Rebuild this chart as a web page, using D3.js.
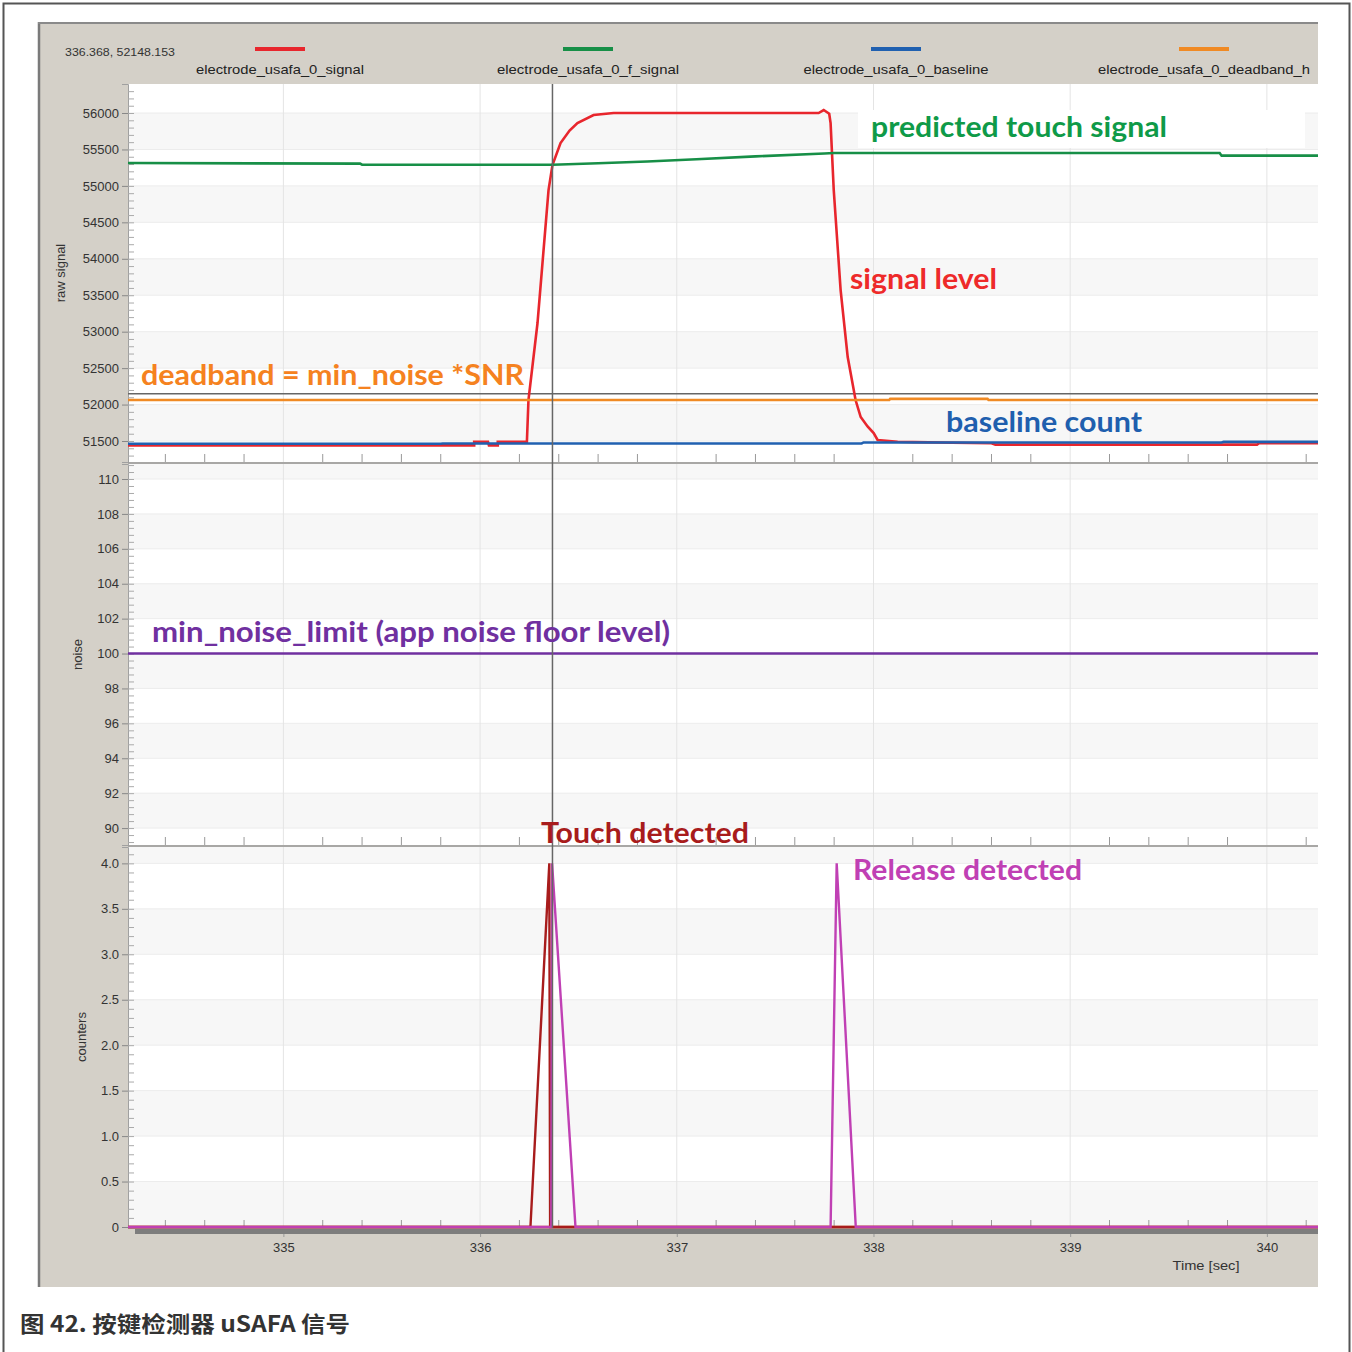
<!DOCTYPE html>
<html>
<head>
<meta charset="utf-8">
<script src="https://cdn.jsdelivr.net/npm/d3@7"></script>
<style>
  body { margin: 0; background: #fff; }
  svg { display: block; }
  .tick text { font-family: "Liberation Sans", Arial, sans-serif; fill: #333; }
</style>
</head>
<body>
<svg id="chart"></svg>
<script>
// ---- data ----
const timeTicks = [335, 336, 337, 338, 339, 340]
const rawTicks = [51500, 52000, 52500, 53000, 53500, 54000, 54500, 55000, 55500, 56000]
const noiseTicks = [90, 92, 94, 96, 98, 100, 102, 104, 106, 108, 110]
const counterTicks = [0, 0.5, 1.0, 1.5, 2.0, 2.5, 3.0, 3.5, 4.0]

// [time, value]
const rawSignal = [
  [334.21, 51440], [335.97, 51440], [335.97, 51490], [336.04, 51490], [336.045, 51440],
  [336.09, 51440], [336.09, 51490], [336.238, 51490], [336.246, 52062], [336.292, 53119],
  [336.348, 54943], [336.368, 55286], [336.409, 55588], [336.455, 55760], [336.495, 55862],
  [336.577, 55972], [336.679, 56000], [337.721, 56000], [337.747, 56041], [337.775, 55990],
  [337.782, 55862], [337.798, 54943], [337.833, 53571], [337.869, 52652], [337.909, 52062],
  [337.935, 51829], [337.97, 51700], [338.001, 51610], [338.021, 51514], [338.123, 51490],
  [338.2, 51485], [338.6, 51470], [338.62, 51450], [339.95, 51450], [339.96, 51470], [340.26, 51470]
]
const filteredSignal = [
  [334.21, 55314], [335.39, 55305], [335.4, 55290], [336.37, 55290], [336.6, 55310],
  [336.85, 55335], [337.1, 55365], [337.4, 55405], [337.75, 55445], [337.8, 55452],
  [339.76, 55452], [339.77, 55415], [340.26, 55415]
]
const baseline = [
  [334.21, 51462], [335.8, 51462], [335.81, 51466], [337.94, 51466], [337.95, 51480],
  [339.77, 51480], [339.78, 51488], [340.26, 51488]
]
const deadbandH = [
  [334.21, 52062], [338.08, 52062], [338.085, 52078], [338.58, 52078], [338.585, 52062], [340.26, 52062]
]
const cursor = [336.368, 52148.153]
const minNoiseLimit = [[334.21, 100], [340.26, 100]]
const touchCounter = [
  [334.21, 0], [336.256, 0], [336.352, 4], [336.356, 0], [340.26, 0]
]
const releaseCounter = [
  [334.21, 0], [336.362, 0], [336.366, 4], [336.485, 0], [337.782, 0], [337.813, 4], [337.91, 0], [340.26, 0]
]
const stateCounter = [[334.21, 0], [340.26, 0]]

const legendNames = ['electrode_usafa_0_signal', 'electrode_usafa_0_f_signal',
  'electrode_usafa_0_baseline', 'electrode_usafa_0_deadband_h']
const legendColors = ['#e8262d', '#178f47', '#2060b0', '#f08a24']

// ---- layout ----
const W = 1352, H = 1352
const left = 128, right = 1318
const svg = d3.select('#chart').attr('width', W).attr('height', H)

// outer frame + grey panel
svg.append('rect').attr('x', 3.5).attr('y', 3.5).attr('width', 1346).attr('height', 1400)
  .attr('fill', 'none').attr('stroke', '#555').attr('stroke-width', 2)
svg.append('rect').attr('x', 38).attr('y', 22).attr('width', right - 38).attr('height', 1265)
  .attr('fill', '#d4d0c8')
svg.append('line').attr('x1', 39).attr('x2', 39).attr('y1', 22).attr('y2', 1287)
  .attr('stroke', '#7a7a7a').attr('stroke-width', 2.5)
svg.append('line').attr('x1', 38).attr('x2', right).attr('y1', 23).attr('y2', 23)
  .attr('stroke', '#8a8a8a').attr('stroke-width', 2)

const x = d3.scaleLinear().domain([334.21, 340.26]).range([left, right])

const panels = [
  { y: d3.scaleLinear().domain([51212, 56398]).range([462, 84]), ticks: rawTicks, step: 500, minor: 100,
    fmt: d3.format('d'), title: 'raw signal', tx: 65 },
  { y: d3.scaleLinear().domain([89.03, 110.86]).range([845, 464]), ticks: noiseTicks, step: 2, minor: 0.4,
    fmt: d3.format('d'), title: 'noise', tx: 82 },
  { y: d3.scaleLinear().domain([0, 4.18]).range([1227, 847]), ticks: counterTicks, step: 0.5, minor: 0.1,
    fmt: d => d === 0 ? '0' : d3.format('.1f')(d), title: 'counters', tx: 86 }
]

panels.forEach((p, i) => {
  const [y0, y1] = p.y.range()
  const g = svg.append('g')
  g.append('rect').attr('x', left).attr('y', y1).attr('width', right - left).attr('height', y0 - y1)
    .attr('fill', '#fff')
  // alternating bands
  const bandTicks = p.ticks.slice()
  bandTicks.forEach((t, k) => {
    if (k % 2 === 0) {
      const top = Math.max(p.y(t + p.step), y1)
      g.append('rect').attr('x', left).attr('width', right - left)
        .attr('y', top).attr('height', p.y(t) - top).attr('fill', '#f7f7f7')
    }
  })
  // grid
  g.selectAll('.hg').data(p.ticks).join('line')
    .attr('x1', left).attr('x2', right).attr('y1', d => p.y(d)).attr('y2', d => p.y(d))
    .attr('stroke', '#ececec')
  g.selectAll('.vg').data(timeTicks).join('line')
    .attr('x1', d => x(d)).attr('x2', d => x(d)).attr('y1', y1).attr('y2', y0)
    .attr('stroke', '#e4e4e4')
  // minor x ticks along the bottom of each panel
  const minorX = d3.range(334.4, 340.25, 0.2).filter(t => Math.abs(t - Math.round(t)) > 0.01)
  g.selectAll('.mx').data(minorX).join('line')
    .attr('x1', d => x(d)).attr('x2', d => x(d)).attr('y1', y0 - (i === 2 ? 7 : 8)).attr('y2', y0)
    .attr('stroke', '#999')
  // y axis
  const ax = d3.axisLeft(p.y).tickValues(p.ticks).tickFormat(p.fmt).tickSize(6).tickPadding(3)
  const ag = svg.append('g').attr('transform', `translate(${left},0)`).call(ax)
  ag.select('.domain').attr('stroke', '#a0a0a0')
  ag.selectAll('.tick line').attr('stroke', '#888')
  ag.selectAll('.tick text').attr('font-size', 13).attr('fill', '#3a3a3a')
  const minors = d3.range(Math.ceil(p.y.domain()[0] / p.minor) * p.minor, p.y.domain()[1], p.minor)
  const mg = d3.axisRight(p.y).tickValues(minors).tickSize(6).tickFormat('')
  const mgg = svg.append('g').attr('transform', `translate(${left},0)`).call(mg)
  mgg.select('.domain').remove()
  mgg.selectAll('.tick line').attr('stroke', '#aaa')
  // axis title
  svg.append('text').attr('transform', `translate(${p.tx},${(y0 + y1) / 2}) rotate(-90)`)
    .attr('text-anchor', 'middle').attr('font-family', 'Liberation Sans, Arial, sans-serif')
    .attr('font-size', 13).attr('fill', '#333').text(p.title)
  // separator
  svg.append('line').attr('x1', left).attr('x2', right).attr('y1', y0 + 1).attr('y2', y0 + 1)
    .attr('stroke', '#9a9a9a').attr('stroke-width', 1.5)
})

const [pr, pn, pc] = panels
const line = y => d3.line().x(d => x(d[0])).y(d => y(d[1]))

// top panel series
svg.append('line').attr('x1', left).attr('x2', right)
  .attr('y1', pr.y(cursor[1])).attr('y2', pr.y(cursor[1])).attr('stroke', '#666').attr('stroke-width', 1.5)
svg.append('path').datum(rawSignal).attr('d', line(pr.y)).attr('fill', 'none')
  .attr('stroke', '#e8262d').attr('stroke-width', 2.6)
svg.append('path').datum(filteredSignal).attr('d', line(pr.y)).attr('fill', 'none')
  .attr('stroke', '#178f47').attr('stroke-width', 2.6)
svg.append('path').datum(baseline).attr('d', line(pr.y)).attr('fill', 'none')
  .attr('stroke', '#2060b0').attr('stroke-width', 2.6)
svg.append('path').datum(deadbandH).attr('d', line(pr.y)).attr('fill', 'none')
  .attr('stroke', '#f08a24').attr('stroke-width', 2.6)

// middle panel
svg.append('path').datum(minNoiseLimit).attr('d', line(pn.y)).attr('fill', 'none')
  .attr('stroke', '#7030a0').attr('stroke-width', 2.6)

// bottom panel
svg.append('path').datum(stateCounter).attr('d', line(pc.y)).attr('fill', 'none')
  .attr('stroke', '#d86a30').attr('stroke-width', 2.4)
svg.append('path').datum(touchCounter).attr('d', line(pc.y)).attr('fill', 'none')
  .attr('stroke', '#a81c1c').attr('stroke-width', 2.4)
svg.append('path').datum(releaseCounter).attr('d', line(pc.y)).attr('fill', 'none')
  .attr('stroke', '#c040b4').attr('stroke-width', 2.4)

// vertical cursor
svg.append('line').attr('x1', x(cursor[0])).attr('x2', x(cursor[0])).attr('y1', 84).attr('y2', 1228)
  .attr('stroke', '#666').attr('stroke-width', 1.5)

// x axis
svg.append('rect').attr('x', 135).attr('y', 1229).attr('width', right - 135).attr('height', 5).attr('fill', '#7d7d7d')
const xa = svg.append('g').attr('transform', 'translate(0,1234)')
  .call(d3.axisBottom(x).tickValues(timeTicks).tickFormat(d3.format('d')).tickSize(3).tickPadding(6))
xa.select('.domain').remove()
xa.selectAll('.tick line').attr('stroke', '#999')
xa.selectAll('.tick text').attr('font-size', 13).attr('fill', '#3a3a3a')
svg.append('text').attr('x', 1206).attr('y', 1270).attr('text-anchor', 'middle')
  .attr('font-family', 'Liberation Sans, Arial, sans-serif').attr('font-size', 13)
  .attr('fill', '#333').attr('textLength', 67).attr('lengthAdjust', 'spacingAndGlyphs').text('Time [sec]')

// legend
svg.append('text').attr('x', 65).attr('y', 56).attr('font-family', 'Liberation Sans, Arial, sans-serif')
  .attr('font-size', 11).attr('fill', '#333').attr('textLength', 110).attr('lengthAdjust', 'spacingAndGlyphs')
  .text(cursor[0].toFixed(3) + ', ' + cursor[1].toFixed(3))
const legendX = [280, 588, 896, 1204]
const legendW = [168, 182, 185, 212]
legendNames.forEach((n, i) => {
  svg.append('line').attr('x1', legendX[i] - 25).attr('x2', legendX[i] + 25).attr('y1', 49).attr('y2', 49)
    .attr('stroke', legendColors[i]).attr('stroke-width', 4)
  svg.append('text').attr('x', legendX[i]).attr('y', 74).attr('text-anchor', 'middle')
    .attr('font-family', 'Liberation Sans, Arial, sans-serif').attr('font-size', 13).attr('fill', '#222')
    .attr('textLength', legendW[i]).attr('lengthAdjust', 'spacingAndGlyphs').text(n)
})

// annotations
svg.append('rect').attr('x', 858).attr('y', 110).attr('width', 447).attr('height', 38).attr('fill', '#fff')
const notes = [
  { t: 'predicted touch signal', x: 871, y: 137, w: 296, c: '#0f9a48' },
  { t: 'signal level', x: 850, y: 289, w: 147, c: '#ee2a2a' },
  { t: 'deadband = min_noise *SNR', x: 141, y: 385, w: 383, c: '#f58220' },
  { t: 'baseline count', x: 946, y: 432, w: 196, c: '#1f5fae' },
  { t: 'min_noise_limit (app noise floor level)', x: 152, y: 642, w: 518, c: '#7030a0' },
  { t: 'Touch detected', x: 541, y: 843, w: 208, c: '#a81c1c' },
  { t: 'Release detected', x: 853, y: 880, w: 229, c: '#c040b4' }
]
notes.forEach(n => {
  svg.append('text').attr('x', n.x).attr('y', n.y).attr('font-family', 'Lato, "Open Sans", sans-serif')
    .attr('font-weight', 700).attr('font-size', 28).attr('fill', n.c)
    .attr('textLength', n.w).attr('lengthAdjust', 'spacingAndGlyphs').text(n.t)
})

// caption
svg.append('text').attr('x', 20).attr('y', 1332)
  .attr('font-family', '"Noto Sans CJK SC", "Noto Sans", sans-serif').attr('font-weight', 700)
  .attr('font-size', 22).attr('fill', '#333').attr('textLength', 330).attr('lengthAdjust', 'spacingAndGlyphs')
  .text('图 42. 按键检测器 uSAFA 信号')
</script>
</body>
</html>
